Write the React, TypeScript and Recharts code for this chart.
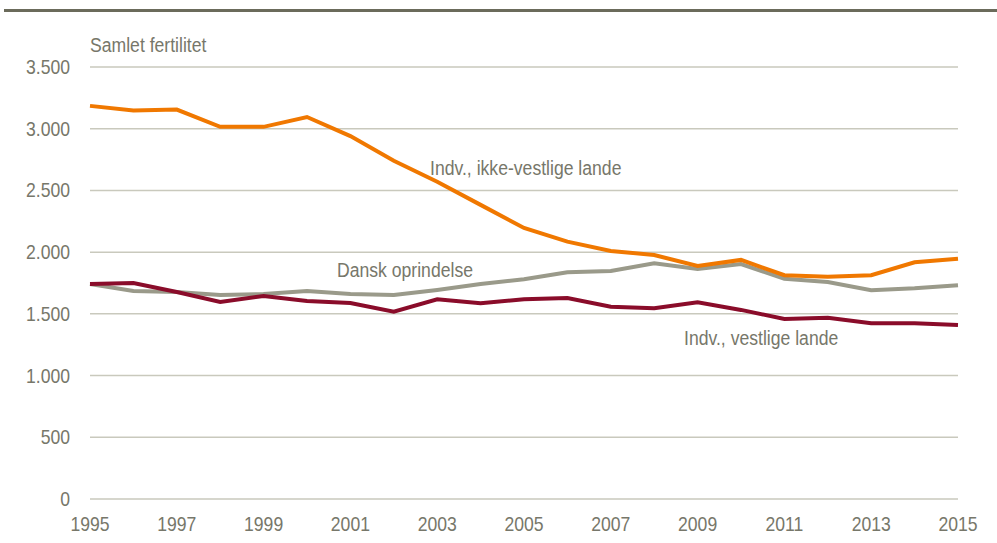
import React from "react";
import { LineChart, Line, XAxis, YAxis, CartesianGrid } from "recharts";

const years = [1995, 1996, 1997, 1998, 1999, 2000, 2001, 2002, 2003, 2004, 2005, 2006, 2007, 2008, 2009, 2010, 2011, 2012, 2013, 2014, 2015];
const ikkeVestlige = [3185, 3147, 3155, 3015, 3015, 3095, 2940, 2740, 2570, 2383, 2196, 2085, 2010, 1977, 1888, 1937, 1813, 1801, 1813, 1918, 1947];
const dansk = [1742, 1686, 1677, 1653, 1661, 1686, 1661, 1653, 1694, 1742, 1780, 1837, 1848, 1910, 1864, 1904, 1785, 1758, 1691, 1707, 1732];
const vestlige = [1742, 1750, 1677, 1596, 1645, 1604, 1588, 1518, 1618, 1586, 1618, 1629, 1558, 1545, 1594, 1532, 1459, 1469, 1424, 1424, 1410];
const xTicks = [1995, 1997, 1999, 2001, 2003, 2005, 2007, 2009, 2011, 2013, 2015];
const yTicks = [0, 500, 1000, 1500, 2000, 2500, 3000, 3500];

const data = years.map((y, i) => ({ year: y, ikke: ikkeVestlige[i], dansk: dansk[i], vest: vestlige[i] }));

const FONT = "'Liberation Sans Narrow', 'Arial Narrow', 'Liberation Sans', sans-serif";
const TXT = "#77776a";
const SX = 0.88;

const fmt = (v: number) => (v >= 1000 ? `${Math.floor(v / 1000)}.${String(v % 1000).padStart(3, "0")}` : String(v));

// condensed tick text (no narrow font installed)
function XTick({ x, y, payload }: any) {
  return (
    <text transform={`translate(${x},${y + 26}) scale(${SX},1)`} textAnchor="middle" fill={TXT} fontSize={20} fontFamily={FONT}>
      {payload.value}
    </text>
  );
}

function YTick({ x, y, payload }: any) {
  return (
    <text transform={`translate(${x - 14},${y + 7}) scale(${SX},1)`} textAnchor="end" fill={TXT} fontSize={20} fontFamily={FONT}>
      {fmt(payload.value)}
    </text>
  );
}

function Note({ x, y, children }: { x: number; y: number; children: React.ReactNode }) {
  return (
    <div style={{ position: "absolute", left: x, top: y - 12, fontFamily: FONT, fontSize: 20, lineHeight: "24px", color: TXT, whiteSpace: "nowrap", transform: `scaleX(${SX})`, transformOrigin: "left center" }}>
      {children}
    </div>
  );
}

export default function App() {
  return (
    <div style={{ position: "absolute", left: 0, top: 0, width: 997, height: 543, background: "#fff" }}>
      <div style={{ position: "absolute", left: 4, top: 9, width: 993, height: 3, background: "#6b6b5b" }} />
      <LineChart width={997} height={543} data={data} margin={{ top: 67, right: 39, left: 0, bottom: 0 }}>
        <CartesianGrid vertical={false} stroke="#c9c9bd" strokeWidth={1.5} />
        <XAxis
          dataKey="year"
          type="number"
          domain={[1995, 2015]}
          ticks={xTicks}
          height={44}
          axisLine={false}
          tickLine={false}
          tickMargin={0}
          tick={<XTick />}
        />
        <YAxis
          domain={[0, 3500]}
          ticks={yTicks}
          width={90}
          axisLine={false}
          tickLine={false}
          tickMargin={0}
          tick={<YTick />}
        />
        <Line type="linear" dataKey="dansk" stroke="#9a9a8a" strokeWidth={4} dot={false} isAnimationActive={false} />
        <Line type="linear" dataKey="vest" stroke="#8a0c2a" strokeWidth={4} dot={false} isAnimationActive={false} />
        <Line type="linear" dataKey="ikke" stroke="#f07800" strokeWidth={4} dot={false} isAnimationActive={false} />
      </LineChart>
      <Note x={90} y={45}>Samlet fertilitet</Note>
      <Note x={430} y={168}>Indv., ikke-vestlige lande</Note>
      <Note x={337} y={270}>Dansk oprindelse</Note>
      <Note x={684} y={338}>Indv., vestlige lande</Note>
    </div>
  );
}
